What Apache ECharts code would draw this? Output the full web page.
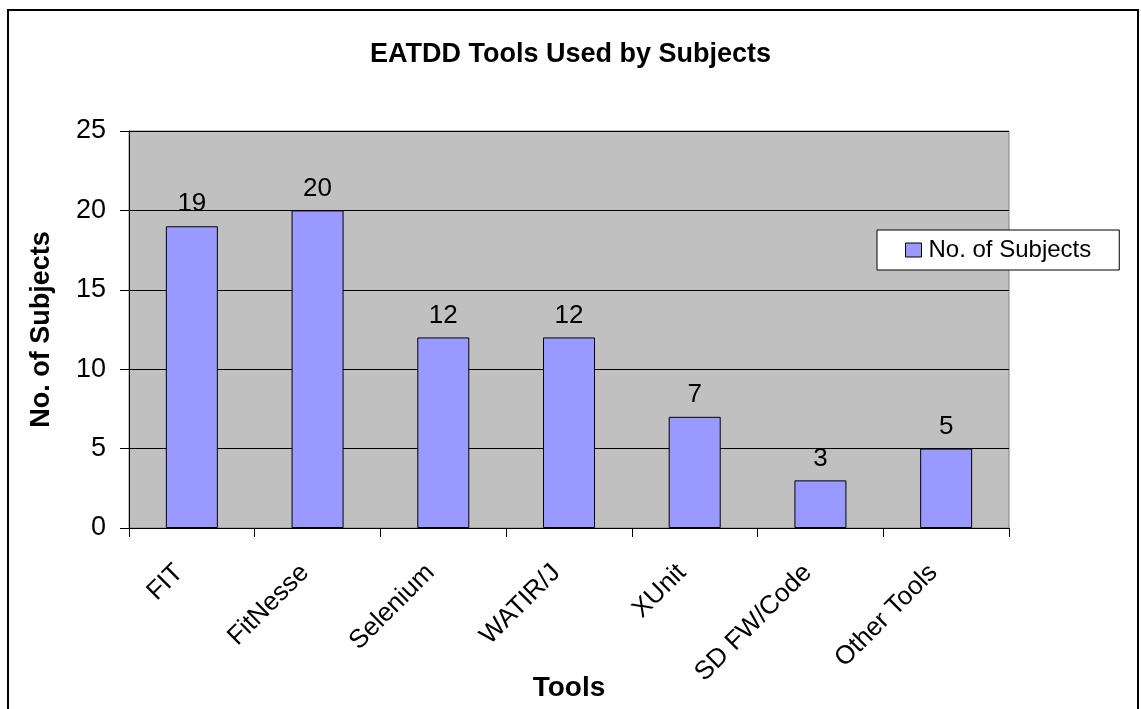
<!DOCTYPE html>
<html>
<head>
    <meta charset="UTF-8">
    <title>EATDD Tools Used by Subjects</title>
    <script src="https://cdn.jsdelivr.net/npm/echarts@6/dist/echarts.min.js"></script>
    <style>
        html, body { margin: 0; padding: 0; background: #fff; }
        #chart { width: 1141px; height: 709px; }
    </style>
</head>
<body>
    <div id="chart"></div>

    <script>
        // data
        var tools = ['FIT', 'FitNesse', 'Selenium', 'WATIR/J', 'XUnit', 'SD FW/Code', 'Other Tools'];
        var subjects = [19, 20, 12, 12, 7, 3, 5];

        var font = 'Arial, "Liberation Sans", sans-serif';
        var chart = echarts.init(document.getElementById('chart'), null, {renderer: 'canvas'});

        chart.setOption({
            animation: false,
            backgroundColor: '#fff',
            title: {
                text: 'EATDD Tools Used by Subjects',
                left: 'center',
                top: 36,
                textStyle: {fontFamily: font, fontSize: 27, fontWeight: 'bold', color: '#000'}
            },
            legend: {
                data: ['No. of Subjects'],
                icon: 'rect',
                left: 877,
                top: 230,
                backgroundColor: '#fff',
                borderColor: '#000',
                borderWidth: 1,
                padding: [8, 28, 8, 28],
                itemWidth: 16,
                itemHeight: 14,
                itemGap: 0,
                itemStyle: {borderColor: '#000', borderWidth: 1},
                textStyle: {fontFamily: font, fontSize: 24, color: '#000', padding: [0, 0, 0, 2]}
            },
            grid: {
                left: 129, right: 132, top: 131, bottom: 181,
                outerBoundsMode: 'none',
                containLabel: false,
                show: true,
                backgroundColor: '#c0c0c0',
                borderColor: '#808080',
                borderWidth: 1
            },
            xAxis: {
                type: 'category',
                data: tools,
                name: 'Tools',
                nameLocation: 'middle',
                nameGap: 146,
                nameMoveOverlap: false,
                nameTextStyle: {fontFamily: font, fontSize: 28, fontWeight: 'bold', color: '#000'},
                axisLine: {lineStyle: {color: '#000', width: 1}},
                axisTick: {show: true, length: 9, lineStyle: {color: '#000'}},
                axisLabel: {
                    rotate: 45, margin: 28, padding: [0, 18, 14, 0],
                    fontFamily: font, fontSize: 26, color: '#000', interval: 0
                }
            },
            yAxis: {
                type: 'value',
                min: 0,
                max: 25,
                interval: 5,
                name: 'No. of Subjects',
                nameLocation: 'middle',
                nameGap: 74,
                nameTextStyle: {fontFamily: font, fontSize: 27, fontWeight: 'bold', color: '#000'},
                axisLine: {show: true, lineStyle: {color: '#000', width: 1}},
                axisTick: {show: true, length: 9, lineStyle: {color: '#000'}},
                axisLabel: {margin: 23, fontFamily: font, fontSize: 27, color: '#000'},
                splitLine: {show: true, lineStyle: {color: '#000', width: 1}}
            },
            series: [{
                name: 'No. of Subjects',
                type: 'bar',
                data: subjects,
                barWidth: 52,
                itemStyle: {color: '#9999ff', borderColor: '#000', borderWidth: 1},
                label: {
                    show: true,
                    position: 'top',
                    distance: 9,
                    fontFamily: font,
                    fontSize: 26,
                    color: '#000'
                }
            }],
            graphic: [{
                type: 'rect',
                shape: {x: 8, y: 10, width: 1130, height: 720},
                style: {fill: 'none', stroke: '#000', lineWidth: 2},
                silent: true
            }]
        });
    </script>
</body>
</html>
